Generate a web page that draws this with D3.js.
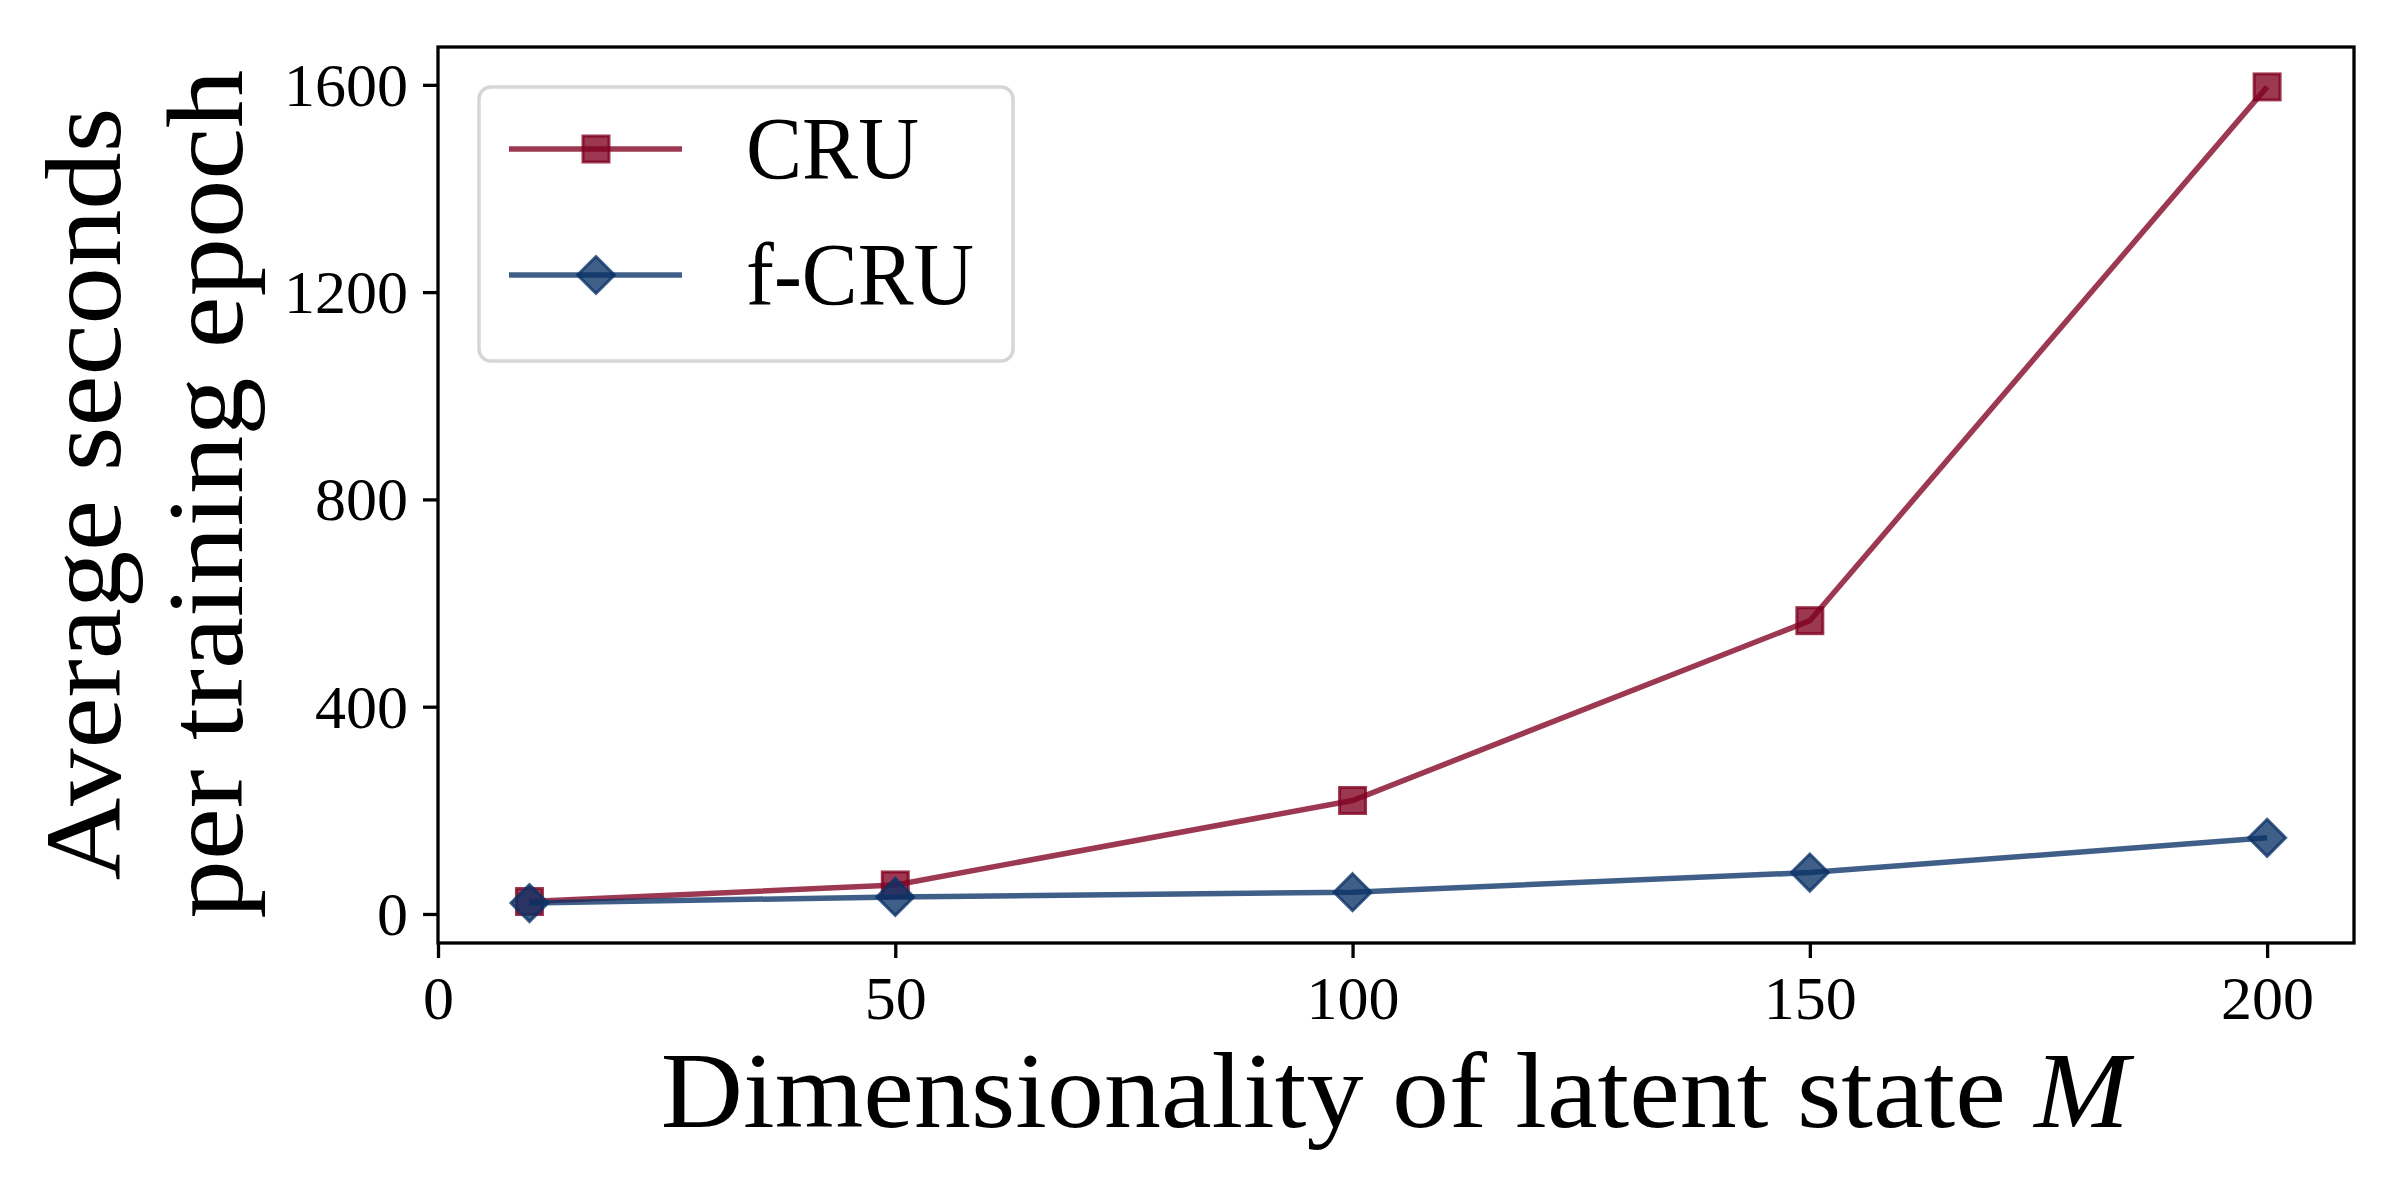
<!DOCTYPE html>
<html>
<head>
<meta charset="utf-8">
<script src="https://cdn.jsdelivr.net/npm/d3@7"></script>
<style>
  html, body { margin: 0; padding: 0; background: #fff; }
  svg text { font-family: "Liberation Serif", "Times New Roman", serif; fill: #000; }
</style>
</head>
<body>
<svg id="chart" width="2400" height="1200"></svg>
<script>
// ---- data ----
const dims = [10, 50, 100, 150, 200];
const cruSeconds = [24, 56, 219, 566, 1596];
const fcruSeconds = [21, 33, 42, 80, 147];
const seriesNames = ["CRU", "f-CRU"];
const xTicks = [0, 50, 100, 150, 200];
const yTicks = [0, 400, 800, 1200, 1600];
const xLabel = "Dimensionality of latent state ";
const xLabelVar = "M";
const yLabelLines = ["Average seconds", "per training epoch"];

// ---- layout ----
const svg = d3.select("#chart");
const L = 438, R = 2354, T = 47, B = 943;
const x = d3.scaleLinear().domain([0, 209.5]).range([L, R]);
const y = d3.scaleLinear().domain([-56, 1673]).range([B, T]);

const cruColor = "#800020", fcruColor = "#0a3266";
const alpha = 0.78;

function fitWidth(sel, target, cx, cy, rotate) {
  const w = sel.node().getBBox().width;
  const s = target / w;
  if (rotate) {
    sel.attr("transform", `translate(${cx},${cy}) rotate(-90) scale(${s},1)`);
  } else {
    sel.attr("transform", `translate(${cx},0) scale(${s},1) translate(${-cx},0)`);
  }
}

// ---- axes ----
const gx = svg.append("g").attr("transform", `translate(0,${B})`)
  .call(d3.axisBottom(x).tickValues(xTicks).tickSize(15).tickFormat(d3.format("d")));
const gy = svg.append("g").attr("transform", `translate(${L},0)`)
  .call(d3.axisLeft(y).tickValues(yTicks).tickSize(15).tickFormat(d3.format("d")));
[gx, gy].forEach(g => {
  g.select(".domain").remove();
  g.selectAll(".tick line").attr("stroke", "#000").attr("stroke-width", 3.3);
  g.selectAll(".tick text").style("font-family", '"Liberation Serif", serif')
    .attr("font-size", 62).attr("fill", "#000");
});
gx.selectAll(".tick text").attr("y", 32).attr("dy", "0.71em");
gy.selectAll(".tick text").attr("x", -30).attr("dy", "0.33em");

// frame
svg.append("rect").attr("x", L).attr("y", T).attr("width", R - L).attr("height", B - T)
  .attr("fill", "none").attr("stroke", "#000").attr("stroke-width", 3.3);

// ---- series ----
const line = d3.line().x(d => x(d[0])).y(d => y(d[1]));
const cruData = dims.map((d, i) => [d, cruSeconds[i]]);
const fcruData = dims.map((d, i) => [d, fcruSeconds[i]]);

const sq = 13, dm = 18.5;
function square(g, cx, cy, color) {
  g.append("rect").attr("x", cx - sq).attr("y", cy - sq).attr("width", 2 * sq).attr("height", 2 * sq)
    .attr("fill", color).attr("fill-opacity", alpha)
    .attr("stroke", color).attr("stroke-opacity", alpha).attr("stroke-width", 3);
}
function diamond(g, cx, cy, color) {
  g.append("path").attr("d", `M${cx},${cy - dm}L${cx + dm},${cy}L${cx},${cy + dm}L${cx - dm},${cy}Z`)
    .attr("fill", color).attr("fill-opacity", alpha)
    .attr("stroke", color).attr("stroke-opacity", alpha).attr("stroke-width", 3);
}

const gCru = svg.append("g");
gCru.append("path").datum(cruData).attr("d", line).attr("fill", "none")
  .attr("stroke", cruColor).attr("stroke-opacity", alpha).attr("stroke-width", 5.5);
cruData.forEach(d => square(gCru, x(d[0]), y(d[1]), cruColor));

const gF = svg.append("g");
gF.append("path").datum(fcruData).attr("d", line).attr("fill", "none")
  .attr("stroke", fcruColor).attr("stroke-opacity", alpha).attr("stroke-width", 5.5);
fcruData.forEach(d => diamond(gF, x(d[0]), y(d[1]), fcruColor));

// ---- legend ----
const lg = svg.append("g");
lg.append("rect").attr("x", 479).attr("y", 87).attr("width", 534).attr("height", 274)
  .attr("rx", 12).attr("fill", "#fff").attr("fill-opacity", 0.8)
  .attr("stroke", "#d6d6d6").attr("stroke-width", 3.5);
const legY = [149, 275];
const legColors = [cruColor, fcruColor];
const legWidths = [173, 228];
seriesNames.forEach((name, i) => {
  lg.append("line").attr("x1", 509).attr("x2", 682).attr("y1", legY[i]).attr("y2", legY[i])
    .attr("stroke", legColors[i]).attr("stroke-opacity", alpha).attr("stroke-width", 5.5);
  if (i === 0) square(lg, 596, legY[i], legColors[i]); else diamond(lg, 596, legY[i], legColors[i]);
  const t = lg.append("text").attr("x", 746).attr("y", legY[i] + 29).attr("font-size", 88).text(name);
  fitWidth(t, legWidths[i], 746, 0, false);
});

// ---- axis labels ----
const xl = svg.append("text").attr("x", 1395).attr("y", 1127).attr("text-anchor", "middle")
  .attr("font-size", 108);
xl.append("tspan").text(xLabel);
xl.append("tspan").attr("font-style", "italic").text(xLabelVar);
fitWidth(xl, 1474, 1395, 0, false);

const yl1 = svg.append("text").attr("x", 0).attr("y", 0).attr("text-anchor", "middle")
  .attr("font-size", 108).text(yLabelLines[0]);
fitWidth(yl1, 773, 120, 494, true);
const yl2 = svg.append("text").attr("x", 0).attr("y", 0).attr("text-anchor", "middle")
  .attr("font-size", 108).text(yLabelLines[1]);
fitWidth(yl2, 849, 242, 494, true);
</script>
</body>
</html>
